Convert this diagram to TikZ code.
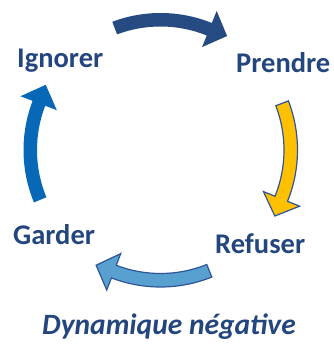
\documentclass[tikz,border=0pt]{standalone}
\usepackage{fontspec}
\setmainfont{Carlito}
\definecolor{txtblue}{HTML}{23467E}
\definecolor{navy}{HTML}{264A82}
\definecolor{midblue}{HTML}{0868B8}
\definecolor{gold}{HTML}{FFC000}
\definecolor{lightblue}{HTML}{58A0D0}
\definecolor{edgeblue}{HTML}{2F5597}
\newcommand\cyclearrow[4]{%
  \path[#4] (#1:137pt) arc[start angle=#1,end angle=#2,radius=137pt]
    -- (#2:150pt) -- (#3:132pt) -- (#2:111pt) -- (#2:123.5pt)
    arc[start angle=#2,end angle=#1,radius=123.5pt] -- cycle;}
\tikzset{
  lbl/.style={font=\fontsize{28.5}{30}\selectfont\bfseries, text=txtblue, inner sep=0pt, anchor=base west},
  title/.style={font=\fontsize{29.5}{31}\selectfont\bfseries\itshape, text=txtblue, inner sep=0pt, anchor=base west},
}
\begin{document}
\begin{tikzpicture}[x=1pt,y=1pt]
\useasboundingbox (0,0) rectangle (334,345);
\begin{scope}[shift={(160.5,195)}]
  \cyclearrow{110.6}{68}{59.7}{fill=navy}
  \cyclearrow{21}{-22}{-30}{fill=gold, draw=edgeblue, line width=1.2pt, line join=miter}
  \cyclearrow{-68}{-111}{-119.2}{fill=lightblue, draw=edgeblue, line width=1.2pt, line join=miter}
  \cyclearrow{202.5}{159}{150.4}{fill=midblue}
\end{scope}
\node[lbl] (ign) at (17,277) {Ignorer};
\node[lbl] (pre) at (236,272) {Prendre};
\node[lbl] (ref) at (215,91.7) {Refuser};
\node[lbl] (gar) at (13,100.7) {Garder};
\node[title] (dyn) at (42,10) {Dynamique négative};
\end{tikzpicture}
\end{document}
